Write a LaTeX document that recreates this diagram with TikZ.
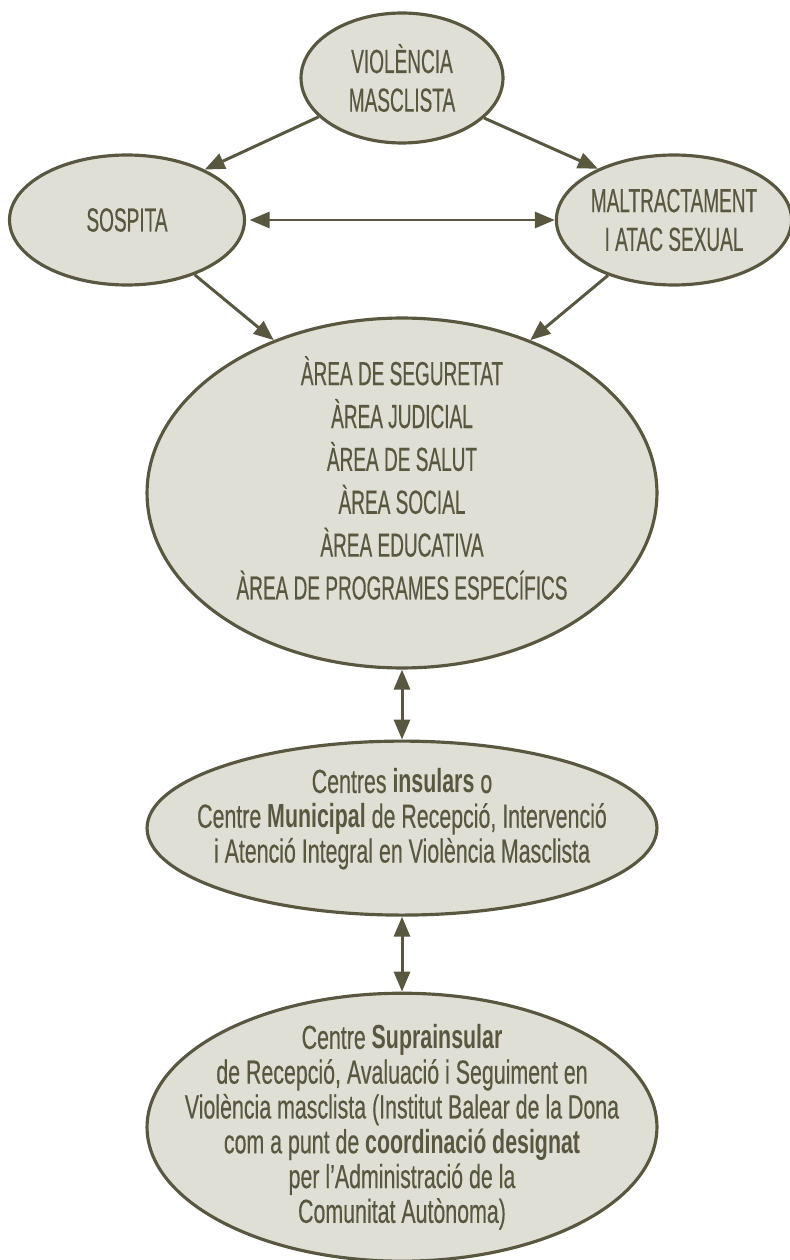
\documentclass[tikz,border=0pt]{standalone}
\usepackage{fontspec}
\setmainfont[FakeStretch=0.57, UprightFeatures={FakeBold=0.4}]{Liberation Sans}
\newfontfamily\lowfont[FakeStretch=0.64, UprightFeatures={FakeBold=0.4}]{Liberation Sans}
\usepackage{tikz}
\usetikzlibrary{arrows.meta}
\usetikzlibrary{positioning}
\usetikzlibrary{shapes.geometric}
\definecolor{olivedark}{HTML}{5A5741}
\definecolor{olivepale}{HTML}{E0DFD6}

\begin{document}
\begin{tikzpicture}[x=0.02cm, y=-0.02cm,
    bubble/.style={ellipse, draw=olivedark, fill=olivepale, line width=1.8pt,
      inner sep=0pt, text=olivedark, align=center},
    txt/.style={text=olivedark, align=center},
    link/.style={draw=olivedark, line width=1.7pt,
      -{Triangle[length=0.4cm, width=0.32cm]}},
    dlink/.style={link, {Triangle[length=0.4cm, width=0.32cm]}-{Triangle[length=0.4cm, width=0.32cm]}}]
    \useasboundingbox (0,0) rectangle (790,1260);

    \node[bubble, minimum width=4.04cm, minimum height=2.6cm,
      font=\fontsize{19}{22}\selectfont] (vm) at (402,78) {VIOLÈNCIA\\MASCLISTA};
    \node[bubble, minimum width=4.7cm, minimum height=2.6cm,
      font=\fontsize{19}{22}\selectfont] (sospita) at (127,220) {SOSPITA};
    \node[bubble, minimum width=4.56cm, minimum height=2.6cm,
      font=\fontsize{19}{22}\selectfont] (maltract) at (674,220) {MALTRACTAMENT\\I ATAC SEXUAL};

    \node[bubble, minimum width=10.2cm, minimum height=7cm] (arees) at (402,493) {};
    \node[txt, font=\fontsize{19}{24.4}\selectfont] (areestext) at ([yshift=0.3cm]arees.center)
      {ÀREA DE SEGURETAT\\ÀREA JUDICIAL\\ÀREA DE SALUT\\ÀREA SOCIAL\\ÀREA EDUCATIVA\\ÀREA DE PROGRAMES ESPECÍFICS};

    \node[bubble, minimum width=10.2cm, minimum height=3.48cm, below=1.4cm of arees] (centres) {};
    \node[txt, font=\lowfont\fontsize{19}{19.8}\selectfont] (centrestext) at ([yshift=0.18cm]centres.center)
      {Centres \textbf{insulars} o\\Centre \textbf{Municipal} de Recepció, Intervenció\\i Atenció Integral en Violència Masclista};

    \node[bubble, minimum width=10.2cm, minimum height=5.36cm, below=1.5cm of centres] (supra) {};
    \node[txt, font=\lowfont\fontsize{19}{19.8}\selectfont] (supratext) at (supra.center)
      {Centre \textbf{Suprainsular}\\de Recepció, Avaluació i Seguiment en\\Violència masclista (Institut Balear de la Dona\\com a punt de \textbf{coordinació designat}\\per l’Administració de la\\Comunitat Autònoma)};

    \draw[link] (vm.205) -- (sospita.33);
    \draw[link] (vm.334) -- (maltract.146);
    \draw[dlink, shorten <=2pt] (sospita.east) -- (maltract.west);
    \draw[link] (sospita.321) -- (arees.130);
    \draw[link] (maltract.220) -- (arees.50);
    \draw[dlink] (arees.south) -- (centres.north);
    \draw[dlink] (centres.south) -- (supra.north);
\end{tikzpicture}
\end{document}
